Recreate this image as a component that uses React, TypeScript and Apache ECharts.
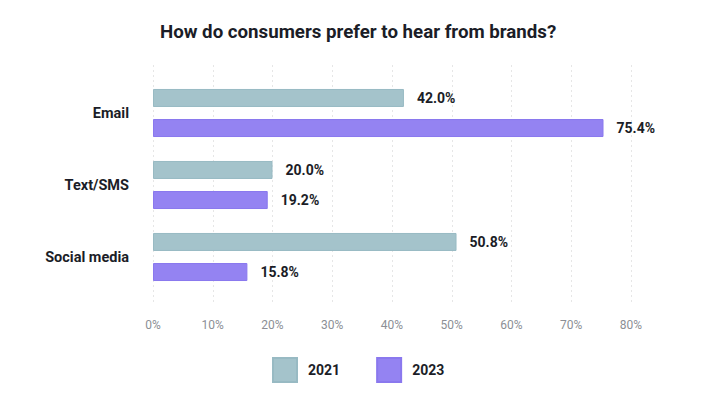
import React, { useEffect, useRef } from "react";
import * as echarts from "echarts";

const categories = ["Email", "Text/SMS", "Social media"];
const series2021 = [42.0, 20.0, 50.8];
const series2023 = [75.4, 19.2, 15.8];
const seriesNames = ["2021", "2023"];
const tickMax = 80;
const tickInterval = 10;

export default function App() {
  const ref = useRef<HTMLDivElement>(null);
  useEffect(() => {
    const chart = echarts.init(ref.current!, undefined, { renderer: "svg" });
    const font = "Roboto";
    const dark = "#1b1d27";
    const label = {
      show: true,
      position: "right" as const,
      distance: 13,
      fontFamily: font,
      fontWeight: "bold" as const,
      fontSize: 14,
      color: dark,
      formatter: (p: any) => Number(p.value).toFixed(1) + "%",
    };
    chart.setOption({
      animation: false,
      title: {
        text: "How do consumers prefer to hear from brands?",
        left: 155,
        top: 17,
        textStyle: { fontFamily: font, fontWeight: "bold", fontSize: 18.7, color: dark },
      },
      legend: {
        left: 267,
        top: 352,
        itemWidth: 24,
        itemHeight: 24,
        itemGap: 36,
        icon: "rect",
        data: seriesNames,
        textStyle: { fontFamily: font, fontWeight: "bold", fontSize: 14, color: dark, padding: [0, 0, 0, 6] },
      },
      grid: [
        { left: 153, right: 72, top: 65, bottom: 93 },
        { left: 153, right: 72, top: 77, bottom: 103 },
      ],
      xAxis: [
        {
          gridIndex: 0,
          type: "value",
          min: 0,
          max: tickMax,
          interval: tickInterval,
          axisLine: { show: false },
          axisTick: { show: false },
          axisLabel: { formatter: "{value}%", fontFamily: font, fontSize: 12, color: "#8c8f95", margin: 16 },
          splitLine: { show: true, lineStyle: { type: [2, 3], color: "#e6e6e6", width: 1 } },
        },
        {
          gridIndex: 1,
          type: "value",
          min: 0,
          max: tickMax,
          interval: tickInterval,
          show: false,
          splitLine: { show: false },
        },
      ],
      yAxis: [
        { gridIndex: 0, type: "category", data: [], show: false },
        {
          gridIndex: 1,
          type: "category",
          data: categories,
          inverse: true,
          axisLine: { show: false },
          axisTick: { show: false },
          axisLabel: { fontFamily: font, fontWeight: "bold", fontSize: 14.5, color: dark, margin: 24 },
        },
      ],
      series: [
        {
          name: seriesNames[0],
          type: "bar",
          xAxisIndex: 1,
          yAxisIndex: 1,
          data: series2021,
          barWidth: 18,
          barGap: "67%",
          itemStyle: { color: "#a4c3cb", borderColor: "#98bac3", borderWidth: 1 },
          label,
        },
        {
          name: seriesNames[1],
          type: "bar",
          xAxisIndex: 1,
          yAxisIndex: 1,
          data: series2023,
          barWidth: 18,
          itemStyle: { color: "#9483f2", borderColor: "#8a78ee", borderWidth: 1 },
          label,
        },
      ],
    });
    return () => chart.dispose();
  }, []);
  return (
    <div style={{ position: "absolute", left: 0, top: 0 }}>
      <div ref={ref} style={{ width: 703, height: 396 }} />
    </div>
  );
}
